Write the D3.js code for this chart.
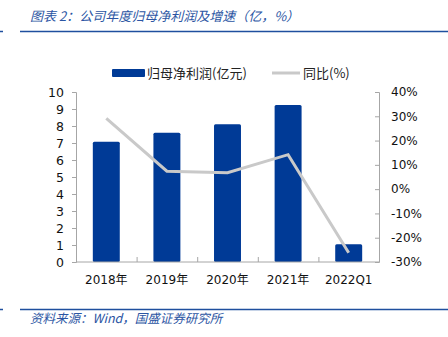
<!DOCTYPE html>
<html>
<head>
<meta charset="utf-8">
<script src="https://cdn.jsdelivr.net/npm/d3@7"></script>
<style>
  body { margin: 0; background: #fff; }
  svg { display: block; }
</style>
</head>
<body>
<div id="chart"></div>
<script>
var categories = ["2018年", "2019年", "2020年", "2021年", "2022Q1"];
var profit = [7.08, 7.6, 8.1, 9.24, 1.05];      // 归母净利润(亿元)
var growth = [29.1, 7.4, 6.8, 14.2, -26.2];     // 同比(%)
var leftTicks = [0, 1, 2, 3, 4, 5, 6, 7, 8, 9, 10];
var rightTicks = [-30, -20, -10, 0, 10, 20, 30, 40];

var W = 448, H = 337;
var plot = {left: 76, right: 379, top: 92, bottom: 262};
var numFont = "'DejaVu Sans', Verdana, sans-serif";
var cjkFont = "'Noto Sans CJK SC', sans-serif";
var blue = "#003a96", grey = "#c9c9c9", axisCol = "#a6a6a6";

var svg = d3.select("#chart").append("svg")
    .attr("width", W)
    .attr("height", H);

// header
svg.append("text")
    .attr("x", 30).attr("y", 21)
    .attr("font-family", cjkFont)
    .attr("font-size", 13)
    .attr("font-style", "italic")
    .attr("fill", "#2b55a3")
    .text("图表 2：公司年度归母净利润及增速（亿，%）");
svg.append("line").attr("x1", 0).attr("x2", 3).attr("y1", 31.5).attr("y2", 31.5)
    .attr("stroke", "#1f4f9e").attr("stroke-width", 1.5);
svg.append("line").attr("x1", 20).attr("x2", W).attr("y1", 31.5).attr("y2", 31.5)
    .attr("stroke", "#1f4f9e").attr("stroke-width", 1.5);

// footer
svg.append("line").attr("x1", 0).attr("x2", 3).attr("y1", 309.5).attr("y2", 309.5)
    .attr("stroke", "#1f4f9e").attr("stroke-width", 1.5);
svg.append("line").attr("x1", 20).attr("x2", W).attr("y1", 309.5).attr("y2", 309.5)
    .attr("stroke", "#1f4f9e").attr("stroke-width", 1.5);
svg.append("text")
    .attr("x", 30).attr("y", 323)
    .attr("font-family", cjkFont)
    .attr("font-size", 12.5)
    .attr("font-style", "italic")
    .attr("fill", "#2b55a3")
    .text("资料来源：Wind，国盛证券研究所");

var x = d3.scaleBand()
    .domain(categories)
    .range([plot.left, plot.right])
    .paddingInner(0.555)
    .paddingOuter(0.2775);

var xb = d3.scaleBand().domain(categories).range([plot.left, plot.right]);

var yL = d3.scaleLinear().domain([0, 10]).range([plot.bottom, plot.top]);
var yR = d3.scaleLinear().domain([-30, 40]).range([plot.bottom, plot.top]);

// bars
svg.append("g").selectAll("rect")
    .data(profit)
    .enter().append("rect")
    .attr("x", function(d, i) { return x(categories[i]); })
    .attr("width", x.bandwidth())
    .attr("y", function(d) { return yL(d); })
    .attr("height", function(d) { return yL(0) - yL(d); })
    .attr("rx", 1.5)
    .attr("fill", blue);

// left axis
var gL = svg.append("g")
    .attr("transform", "translate(" + plot.left + ",0)")
    .call(d3.axisLeft(yL).tickValues(leftTicks).tickSize(4).tickPadding(8));
gL.selectAll(".domain, line").attr("stroke", axisCol);
gL.selectAll("text").attr("font-family", numFont).attr("font-size", 12.5).attr("fill", "#111");

// right axis (ticks point inward)
var gR = svg.append("g")
    .attr("transform", "translate(" + plot.right + ",0)")
    .call(d3.axisRight(yR).tickValues(rightTicks).tickSize(-4).tickPadding(12)
      .tickFormat(function(d) { return d + "%"; }));
gR.selectAll(".domain, line").attr("stroke", axisCol);
gR.selectAll("text").attr("font-family", numFont).attr("font-size", 12).attr("fill", "#111");

// x axis
var gX = svg.append("g")
    .attr("transform", "translate(0," + plot.bottom + ")");
gX.append("line")
    .attr("x1", plot.left).attr("x2", plot.right)
    .attr("stroke", axisCol);
gX.selectAll(".sep")
    .data(categories.slice(1))
    .enter().append("line")
    .attr("class", "sep")
    .attr("x1", function(d) { return xb(d) + 0.5; })
    .attr("x2", function(d) { return xb(d) + 0.5; })
    .attr("y1", 0).attr("y2", -5)
    .attr("stroke", axisCol);
gX.selectAll(".lbl")
    .data(categories)
    .enter().append("text")
    .attr("class", "lbl")
    .attr("x", function(d) { return xb(d) + xb.bandwidth() / 2; })
    .attr("y", 22)
    .attr("text-anchor", "middle")
    .attr("font-family", numFont)
    .attr("font-size", 12)
    .attr("fill", "#111")
    .each(function(d) {
      var t = d3.select(this);
      if (d.slice(-1) === "年") {
        t.append("tspan").text(d.slice(0, -1));
        t.append("tspan").attr("font-family", cjkFont).attr("font-size", 12).text("年");
      } else {
        t.text(d);
      }
    });

// growth line
var line = d3.line()
    .x(function(d, i) { return xb(categories[i]) + xb.bandwidth() / 2; })
    .y(function(d) { return yR(d); });
svg.append("path")
    .datum(growth)
    .attr("d", line)
    .attr("fill", "none")
    .attr("stroke", grey)
    .attr("stroke-width", 3);

// legend
var lg = svg.append("g");
lg.append("rect").attr("x", 112).attr("y", 69).attr("width", 33).attr("height", 8)
    .attr("rx", 1).attr("fill", blue);
lg.append("text").attr("x", 147).attr("y", 78)
    .attr("font-family", cjkFont).attr("font-size", 13).attr("fill", "#222")
    .text("归母净利润(亿元)");
lg.append("line").attr("x1", 272).attr("x2", 300).attr("y1", 73).attr("y2", 73)
    .attr("stroke", grey).attr("stroke-width", 3);
lg.append("text").attr("x", 303).attr("y", 78)
    .attr("font-family", cjkFont).attr("font-size", 13).attr("fill", "#222")
    .text("同比(%)");
</script>
</body>
</html>
